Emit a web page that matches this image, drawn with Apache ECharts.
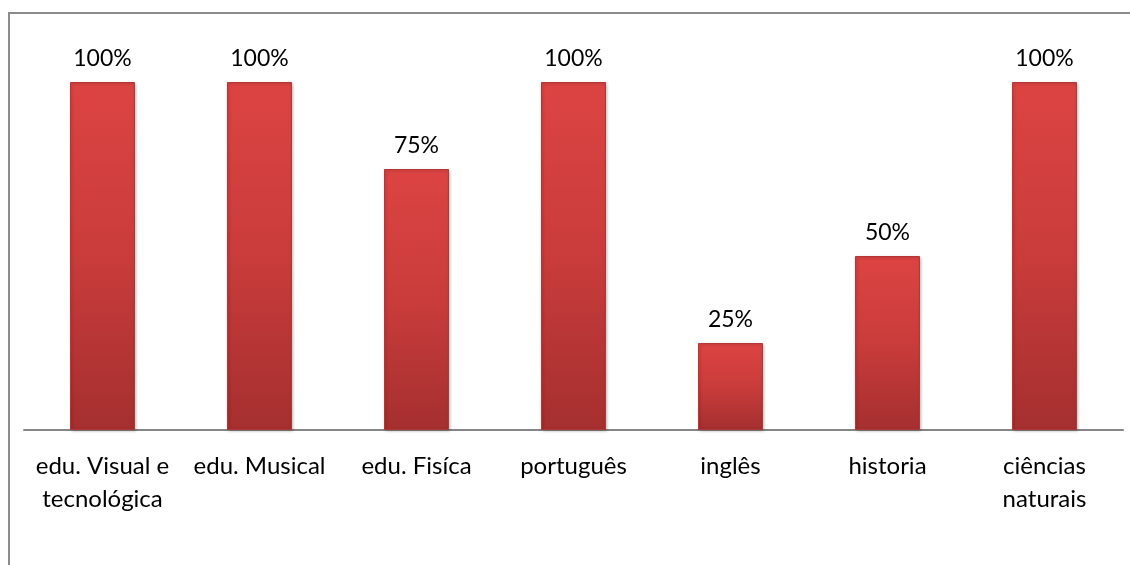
<!DOCTYPE html>
<html>
<head>
<meta charset="utf-8">
<script src="https://cdn.jsdelivr.net/npm/echarts@6/dist/echarts.min.js"></script>
<style>
  html, body { margin: 0; padding: 0; background: #fff; }
  #frame { position: absolute; left: 8px; top: 12px; width: 1200px; height: 600px;
           border-top: 2px solid #8c8c8c; border-left: 2px solid #8c8c8c; }
  #chart { position: absolute; left: 0; top: 0; width: 1130px; height: 565px; }
</style>
</head>
<body>
<div id="frame"></div>
<div id="chart"></div>
<script>
var categories = ['edu. Visual e\ntecnológica', 'edu. Musical', 'edu. Fisíca', 'português', 'inglês', 'historia', 'ciências\nnaturais']
var percentValues = [100, 100, 75, 100, 25, 50, 100]

var chart = echarts.init(document.getElementById('chart'))
chart.setOption({
  animation: false,
  grid: {
    left: 24,
    right: 7,
    top: 82,
    bottom: 135
  },
  xAxis: {
    type: 'category',
    data: categories,
    axisTick: { show: false },
    axisLine: { lineStyle: { color: '#868686', width: 2 } },
    axisLabel: {
      color: '#000',
      fontFamily: 'Lato',
      fontSize: 24,
      lineHeight: 33,
      margin: 20,
      interval: 0
    }
  },
  yAxis: {
    type: 'value',
    min: 0,
    max: 100,
    show: false,
    splitLine: { show: false }
  },
  series: [{
    type: 'bar',
    data: percentValues,
    barWidth: 65,
    itemStyle: {
      color: new echarts.graphic.LinearGradient(0, 0, 0, 1, [
        { offset: 0, color: '#dc4442' },
        { offset: 0.5, color: '#c93c3b' },
        { offset: 1, color: '#a52f2f' }
      ]),
      borderColor: '#b53636',
      borderWidth: 1,
      shadowColor: 'rgba(0,0,0,0.25)',
      shadowBlur: 3,
      shadowOffsetX: 1,
      shadowOffsetY: 1
    },
    label: {
      show: true,
      position: 'top',
      distance: 12,
      color: '#000',
      fontFamily: 'Lato',
      fontSize: 23,
      formatter: '{c}%'
    }
  }]
})
</script>
</body>
</html>
